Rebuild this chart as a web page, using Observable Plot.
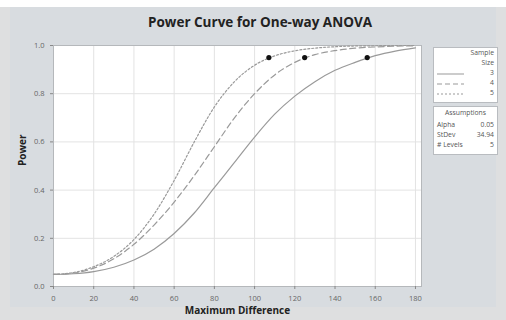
<!DOCTYPE html>
<html>
<head>
<meta charset="utf-8">
<script src="https://cdn.jsdelivr.net/npm/d3@7"></script>
<script src="https://cdn.jsdelivr.net/npm/@observablehq/plot@0.6"></script>
<style>
  html, body { margin: 0; padding: 0; background: #ffffff; }
  #wrap { position: relative; width: 506px; height: 320px; overflow: hidden; background: #dedfe0; font-family: "Open Sans", "DejaVu Sans", sans-serif; }
  #topstrip { position: absolute; left: 0; top: 0; width: 506px; height: 7px; background: #ffffff; }
  #panel { position: absolute; left: 10px; top: 7px; width: 486px; height: 300px; background: #d8dce0; }
  #title { position: absolute; left: 0; width: 520px; top: 13px; text-align: center; font-weight: bold; font-size: 13.5px; color: #222; }
  #chart { position: absolute; left: 0; top: 0; }
  .box { position: absolute; background: #fff; border: 1px solid #b9bcc0; font-size: 6.8px; color: #555; line-height: 1; }
  .row { position: absolute; left: 3px; right: 3px; }
  .r { position: absolute; right: 0; }
  .l { position: absolute; left: 0; }
</style>
</head>
<body>
<div id="wrap">
  <div id="topstrip"></div>
  <div id="panel"></div>
  <div id="chart"></div>
  <div id="title">Power Curve for One-way ANOVA</div>
  <div class="box" style="left:433px; top:47px; width:63px; height:54px;">
    <div class="row" style="top:2px;"><span class="r">Sample</span></div>
    <div class="row" style="top:12px;"><span class="r">Size</span></div>
    <div class="row" style="top:22px;"><svg class="l" width="27" height="8"><line x1="0" y1="4" x2="27" y2="4" stroke="#999" stroke-width="1"/></svg><span class="r">3</span></div>
    <div class="row" style="top:32px;"><svg class="l" width="27" height="8"><line x1="0" y1="4" x2="27" y2="4" stroke="#999" stroke-width="1" stroke-dasharray="5,3"/></svg><span class="r">4</span></div>
    <div class="row" style="top:42px;"><svg class="l" width="27" height="8"><line x1="0" y1="4" x2="27" y2="4" stroke="#999" stroke-width="1" stroke-dasharray="2,2"/></svg><span class="r">5</span></div>
  </div>
  <div class="box" style="left:433px; top:106px; width:63px; height:47px;">
    <div class="row" style="top:3px; text-align:center;">Assumptions</div>
    <div class="row" style="top:15px;"><span class="l">Alpha</span><span class="r">0.05</span></div>
    <div class="row" style="top:25px;"><span class="l">StDev</span><span class="r">34.94</span></div>
    <div class="row" style="top:35px;"><span class="l"># Levels</span><span class="r">5</span></div>
  </div>
</div>
<script>
const maxDiff = [0, 10, 20, 30, 40, 50, 60, 70, 80, 90, 100, 110, 120, 130, 140, 150, 160, 170, 180];
const power3 = [0.05, 0.053, 0.062, 0.08, 0.11, 0.155, 0.22, 0.305, 0.41, 0.515, 0.62, 0.715, 0.79, 0.85, 0.897, 0.93, 0.958, 0.977, 0.99];
const power4 = [0.05, 0.056, 0.076, 0.115, 0.175, 0.255, 0.35, 0.46, 0.58, 0.70, 0.80, 0.878, 0.93, 0.962, 0.979, 0.989, 0.994, 0.997, 0.999];
const power5 = [0.05, 0.058, 0.082, 0.125, 0.195, 0.30, 0.44, 0.60, 0.745, 0.85, 0.918, 0.957, 0.978, 0.989, 0.995, 0.998, 0.999, 1.0, 1.0];
const dotDiff = [156, 124.9, 107.1];
const dotPower = [0.95, 0.95, 0.95];
const xTicks = [0, 20, 40, 60, 80, 100, 120, 140, 160, 180];
const yTicks = [0, 0.2, 0.4, 0.6, 0.8, 1.0];

const s3 = maxDiff.map((d, i) => ({x: d, y: power3[i]}));
const s4 = maxDiff.map((d, i) => ({x: d, y: power4[i]}));
const s5 = maxDiff.map((d, i) => ({x: d, y: power5[i]}));
const dots = dotDiff.map((d, i) => ({x: d, y: dotPower[i]}));

const lineStyle = {x: "x", y: "y", stroke: "#9a9a9a", strokeWidth: 1.2, curve: "monotone-x"};

const chart = Plot.plot({
  width: 506,
  height: 320,
  marginLeft: 53,
  marginRight: 85,
  marginTop: 45,
  marginBottom: 34,
  style: {background: "transparent", fontFamily: "'Open Sans', 'DejaVu Sans', sans-serif", fontSize: "7.5px", color: "#555"},
  x: {domain: [0, 183], ticks: xTicks, tickSize: 3, tickPadding: 3, label: null},
  y: {domain: [0, 1], ticks: yTicks, tickFormat: d3.format(".1f"), tickSize: 3, tickPadding: 2, label: null},
  marks: [
    Plot.frame({fill: "white"}),
    Plot.gridX(xTicks, {stroke: "#e3e3e3", strokeOpacity: 1}),
    Plot.gridY(yTicks, {stroke: "#e3e3e3", strokeOpacity: 1}),
    Plot.frame({stroke: "#b5b8bb"}),
    Plot.axisX({ticks: xTicks, tickSize: 3, stroke: "#888", fill: "#666", label: null}),
    Plot.axisY({ticks: yTicks, tickFormat: d3.format(".1f"), tickSize: 3, stroke: "#888", fill: "#666", label: null}),
    Plot.line(s3, {...lineStyle}),
    Plot.line(s4, {...lineStyle, strokeDasharray: "6,3.5"}),
    Plot.line(s5, {...lineStyle, strokeDasharray: "2,2"}),
    Plot.dot(dots, {x: "x", y: "y", r: 2.6, fill: "#111", stroke: "none"}),
    Plot.text(["Maximum Difference"], {frameAnchor: "bottom", dy: 27.5, fontWeight: "bold", fontSize: 10, fill: "#222"}),
    Plot.text(["Power"], {frameAnchor: "left", dx: -31, rotate: -90, fontWeight: "bold", fontSize: 10, fill: "#222"})
  ]
});
document.getElementById("chart").appendChild(chart);
</script>
</body>
</html>
